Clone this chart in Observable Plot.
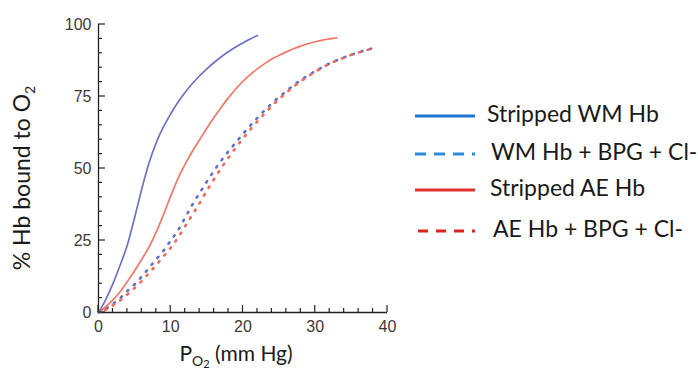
<!DOCTYPE html>
<html>
<head>
<meta charset="utf-8">
<script src="https://cdn.jsdelivr.net/npm/d3@7"></script>
<script src="https://cdn.jsdelivr.net/npm/@observablehq/plot@0.6"></script>
<style>
  html, body { margin: 0; padding: 0; background: #fff; }
  #wrap { position: relative; width: 698px; height: 380px; overflow: hidden; }
  #chart { position: absolute; left: 0; top: 0; }
  .lg-row { position: absolute; display: flex; align-items: center; font-family: Lato, "Open Sans", sans-serif; color: #1a1a1a; white-space: nowrap; }
</style>
</head>
<body>
<div id="wrap"><div id="chart"></div></div>
<script>
// ---- data ----
const wmStrippedX = [0,1,2,3,4,5,6,7,8,9,10,11,12,13,14,15,16,17,18,19,20,21,22];
const wmStrippedY = [0,4.5,10,16.5,23.5,33,43,52,59,64.5,69,73,76.5,79.5,82.2,84.6,86.8,88.8,90.6,92.2,93.6,95,96.2];

const aeStrippedX = [0,1,2,3,4,5,6,7,8,9,10,11,12,13,14,15,16,17,18,19,20,21,22,23,24,25,26,27,28,29,30,31,32,33];
const aeStrippedY = [0,2,4.4,7.2,10.8,14.5,18.5,22.8,28,34,40.5,46.5,51.5,56,60,64,67.8,71.3,74.6,77.6,80.3,82.6,84.6,86.4,88,89.3,90.5,91.6,92.5,93.3,94,94.6,95,95.4];

const wmBpgX = [0,1,2,3,4,5,6,7,8,9,10,11,12,13,14,15,16,17,18,19,20,21,22,23,24,25,26,27,28,29,30,31,32,33,34,35,36,37,38];
const wmBpgY = [0,1.3,3,5,7.5,9.8,12.5,15.5,18.5,21.5,25,28.5,33,37.5,41.5,45.5,49.3,52.8,56,59,62,64.9,67.6,70.2,72.6,74.8,76.9,78.9,80.7,82.3,83.8,85.2,86.5,87.6,88.6,89.5,90.3,91.1,91.8];

const aeBpgX = [0,1,2,3,4,5,6,7,8,9,10,11,12,13,14,15,16,17,18,19,20,21,22,23,24,25,26,27,28,29,30,31,32,33,34,35,36,37,38];
const aeBpgY = [0,1,2.5,4.2,6.3,8.5,11,13.7,16.5,19.5,22.5,26,30,34,38,42.3,46.3,50.2,53.8,57.2,60.4,63.5,66.4,69.1,71.7,74.1,76.3,78.4,80.3,82,83.6,85,86.4,87.5,88.5,89.5,90.3,91,91.8];

const xTickLabels = [0,10,20,30,40];
const yTickLabels = [0,25,50,75,100];
const xMinorTicks = [2,4,6,8,12,14,16,18,22,24,26,28,32,34,36,38];
const yMinorTicks = [5,10,15,20,30,35,40,45,55,60,65,70,80,85,90,95];

const legendLabels = ["Stripped WM Hb", "WM Hb + BPG + Cl-", "Stripped AE Hb", "AE Hb + BPG + Cl-"];

// ---- build tables ----
const toRows = (xs, ys) => xs.map((x, i) => ({x, y: ys[i]}));
const wmStripped = toRows(wmStrippedX, wmStrippedY);
const aeStripped = toRows(aeStrippedX, aeStrippedY);
const wmBpg = toRows(wmBpgX, wmBpgY);
const aeBpg = toRows(aeBpgX, aeBpgY);

const axisColor = "#222";

const chart = Plot.plot({
  width: 400,
  height: 380,
  marginLeft: 98,
  marginRight: 13,
  marginTop: 24,
  marginBottom: 68,
  style: {fontFamily: "'Liberation Sans', Arial, sans-serif", fontSize: "16px", color: "#3d3a36", background: "#fff"},
  x: {domain: [0, 40]},
  y: {domain: [0, 100]},
  marks: [
    Plot.axisX({ticks: xTickLabels, tickSize: 0, tickPadding: 8, label: null, fontSize: 16}),
    Plot.axisY({ticks: yTickLabels, tickSize: 0, tickPadding: 7, label: null, fontSize: 16}),
    // axis lines
    Plot.ruleX([0], {y1: d => 0, y2: d => 100, stroke: axisColor, strokeWidth: 1.3}),
    Plot.ruleY([0], {x1: d => 0, x2: d => 40, stroke: axisColor, strokeWidth: 1.3}),
    // curves
    Plot.line(wmBpg, {x: "x", y: "y", stroke: "#6470c8", strokeWidth: 2.6, strokeDasharray: "1.5,7.5", strokeLinecap: "round", curve: "monotone-x"}),
    Plot.line(aeBpg, {x: "x", y: "y", stroke: "#ee6a5c", strokeWidth: 2.6, strokeDasharray: "1.5,7.5", strokeDashoffset: 2, strokeLinecap: "round", curve: "monotone-x"}),
    Plot.line(aeStripped, {x: "x", y: "y", stroke: "#f07868", strokeWidth: 1.7, curve: "monotone-x"}),
    Plot.line(wmStripped, {x: "x", y: "y", stroke: "#6d74c2", strokeWidth: 1.7, curve: "monotone-x"})
  ]
});
document.getElementById("chart").appendChild(chart);

// ---- inward ticks, placed with the plot's own scales ----
const sx = chart.scale("x"), sy = chart.scale("y");
const svg = d3.select(chart);
const tg = svg.append("g").attr("stroke", axisColor).attr("stroke-width", 1.2);
const y0 = sy.apply(0), x0 = sx.apply(0);
xTickLabels.forEach(v => tg.append("line").attr("x1", sx.apply(v)).attr("x2", sx.apply(v)).attr("y1", y0).attr("y2", y0 - 7));
xMinorTicks.forEach(v => tg.append("line").attr("x1", sx.apply(v)).attr("x2", sx.apply(v)).attr("y1", y0).attr("y2", y0 - 4));
yTickLabels.forEach(v => tg.append("line").attr("y1", sy.apply(v)).attr("y2", sy.apply(v)).attr("x1", x0).attr("x2", x0 + 7));
yMinorTicks.forEach(v => tg.append("line").attr("y1", sy.apply(v)).attr("y2", sy.apply(v)).attr("x1", x0).attr("x2", x0 + 4));

// ---- axis titles with subscripts ----
const yl = svg.append("text")
  .attr("transform", "translate(30,178) rotate(-90)")
  .attr("text-anchor", "middle")
  .style("font-family", "Lato, 'Open Sans', sans-serif")
  .style("font-size", "23px")
  .attr("fill", "#1a1a1a");
yl.append("tspan").text("% Hb bound to O");
yl.append("tspan").attr("dy", 5).style("font-size", "14px").text("2");

const xl = svg.append("text")
  .attr("x", 236).attr("y", 361)
  .attr("text-anchor", "middle")
  .style("font-family", "Lato, 'Open Sans', sans-serif")
  .style("font-size", "21px")
  .attr("fill", "#1a1a1a");
xl.append("tspan").text("P");
xl.append("tspan").attr("dy", 5).style("font-size", "14px").text("O");
xl.append("tspan").attr("dy", 2).style("font-size", "11px").text("2");
xl.append("tspan").attr("dy", -7).text(" (mm Hg)");

// ---- legend ----
const legendColors = ["#1f78d1", "#2a8be0", "#e0302a", "#e0201c"];
const legendDash = [null, "11,8", null, "10,8"];
const rowCenters = [116, 154, 190, 231];
const textLeft = [487, 491, 490, 493];
const wrap = document.getElementById("wrap");
legendLabels.forEach((lab, i) => {
  const row = document.createElement("div");
  row.className = "lg-row";
  row.style.left = "415px";
  row.style.top = (rowCenters[i] - 16) + "px";
  row.style.height = "32px";
  const s = d3.create("svg").attr("width", textLeft[i] - 415).attr("height", 32);
  s.append("line").attr("x1", i === 3 ? 3 : 0).attr("x2", 60).attr("y1", 16).attr("y2", 16)
    .attr("stroke", legendColors[i]).attr("stroke-width", 3)
    .attr("stroke-dasharray", legendDash[i]);
  row.appendChild(s.node());
  const t = document.createElement("span");
  t.textContent = lab;
  t.style.fontSize = "23px";
  t.style.position = "relative";
  t.style.top = "-3px";
  row.appendChild(t);
  wrap.appendChild(row);
});
</script>
</body>
</html>
